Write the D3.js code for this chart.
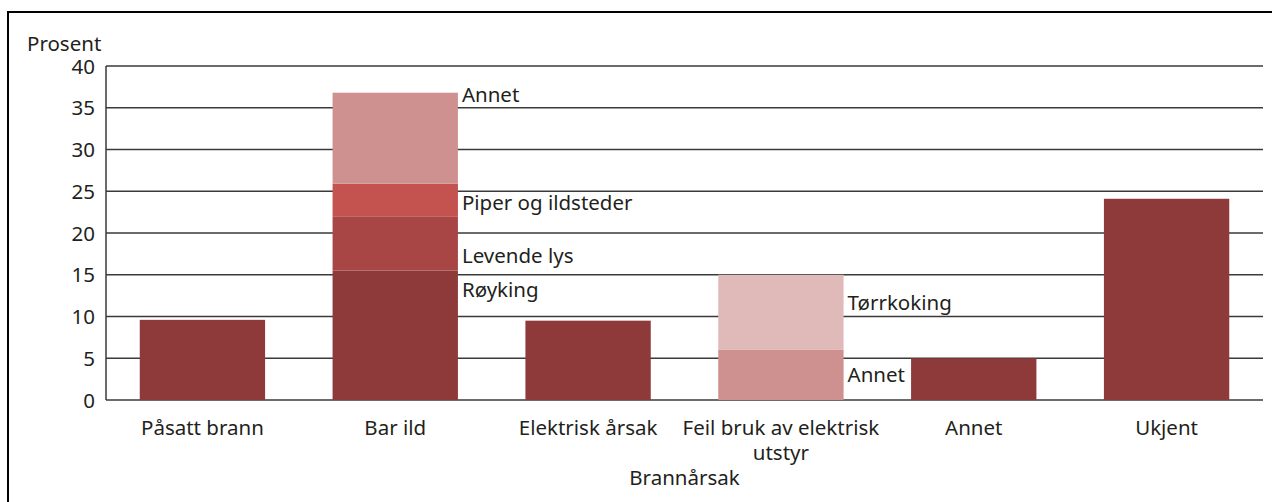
<!DOCTYPE html>
<meta charset="utf-8">
<style>
body { margin: 0; background: #fff; }
text { font-family: "Noto Sans", sans-serif; font-size: 20.5px; fill: #231f20; }
.grid line { stroke: #3a3a3a; stroke-width: 1.5; }
</style>
<svg width="1272" height="502"></svg>
<script src="https://d3js.org/d3.v7.min.js"></script>
<script>

var categories = ["Påsatt brann", "Bar ild", "Elektrisk årsak", "Feil bruk av elektrisk utstyr", "Annet", "Ukjent"];
var catLines = [["Påsatt brann"], ["Bar ild"], ["Elektrisk årsak"], ["Feil bruk av elektrisk", "utstyr"], ["Annet"], ["Ukjent"]];

// single bars
var totals = [9.6, null, 9.5, null, 5.0, 24.1];

// stacked bars: segment names and values (bottom to top)
var barIldNames = ["Røyking", "Levende lys", "Piper og ildsteder", "Annet"];
var barIldValues = [15.5, 6.5, 3.9, 10.9];
var feilNames = ["Annet", "Tørrkoking"];
var feilValues = [6.0, 9.0];

var yTicks = [0, 5, 10, 15, 20, 25, 30, 35, 40];

var svg = d3.select("svg");

// outer frame
svg.append("rect")
    .attr("x", 8).attr("y", 12)
    .attr("width", 1300).attr("height", 520)
    .attr("fill", "none").attr("stroke", "#000").attr("stroke-width", 2);

var plotL = 106, plotR = 1263, plotT = 66, plotB = 400;

var x = d3.scaleBand().domain(categories).range([plotL, plotR]).paddingInner(0.35).paddingOuter(0.175);
var y = d3.scaleLinear().domain([0, 40]).range([plotB, plotT]);

var colDark = "#8e3a3a";
var ildColors = ["#8e3a3a", "#a84545", "#c4524f", "#cf9190"];
var feilColors = ["#cf9190", "#e0b9b9"];

// gridlines
svg.append("g").attr("class", "grid")
  .selectAll("line").data(yTicks).enter().append("line")
    .attr("x1", plotL).attr("x2", plotR)
    .attr("y1", d => y(d)).attr("y2", d => y(d));

svg.append("line").attr("x1", plotL).attr("x2", plotL).attr("y1", plotT).attr("y2", plotB)
    .attr("stroke", "#3a3a3a").attr("stroke-width", 1.5);

// y tick labels
svg.append("g").selectAll("text").data(yTicks).enter().append("text")
    .attr("x", 95).attr("y", d => y(d) + 7.5)
    .attr("text-anchor", "end")
    .text(d => d);

svg.append("text").attr("x", 27).attr("y", 51).text("Prosent");

// single bars
svg.append("g").selectAll("rect")
  .data(categories.map((c, i) => ({c: c, v: totals[i]})).filter(d => d.v != null))
  .enter().append("rect")
    .attr("x", d => x(d.c)).attr("width", x.bandwidth())
    .attr("y", d => y(d.v)).attr("height", d => y(0) - y(d.v))
    .attr("fill", colDark);

function stacked(cat, names, values, colors, offsets) {
  var acc = 0;
  var segs = values.map(function(v, i) {
    var s = {name: names[i], y0: acc, y1: acc + v, color: colors[i], off: offsets[i]};
    acc += v;
    return s;
  });
  var g = svg.append("g");
  g.selectAll("rect").data(segs).enter().append("rect")
    .attr("x", x(cat)).attr("width", x.bandwidth())
    .attr("y", d => y(d.y1)).attr("height", d => y(d.y0) - y(d.y1))
    .attr("fill", d => d.color);
  g.selectAll("text").data(segs).enter().append("text")
    .attr("x", x(cat) + x.bandwidth() + 4)
    .attr("y", d => y(d.y1) + d.off)
    .text(d => d.name);
}

stacked("Bar ild", barIldNames, barIldValues, ildColors, [26, 47, 26, 9]);
stacked("Feil bruk av elektrisk utstyr", feilNames, feilValues, feilColors, [32, 35]);

// category labels
var xl = svg.append("g").selectAll("text").data(categories).enter().append("text")
    .attr("text-anchor", "middle")
    .attr("x", d => x(d) + x.bandwidth() / 2)
    .attr("y", 435);
xl.each(function(d, i) {
  d3.select(this).selectAll("tspan").data(catLines[i]).enter().append("tspan")
    .attr("x", x(d) + x.bandwidth() / 2)
    .attr("dy", (l, j) => j ? 25 : 0)
    .text(l => l);
});

svg.append("text").attr("x", (plotL + plotR) / 2).attr("y", 485)
    .attr("text-anchor", "middle").text("Brannårsak");

</script>
